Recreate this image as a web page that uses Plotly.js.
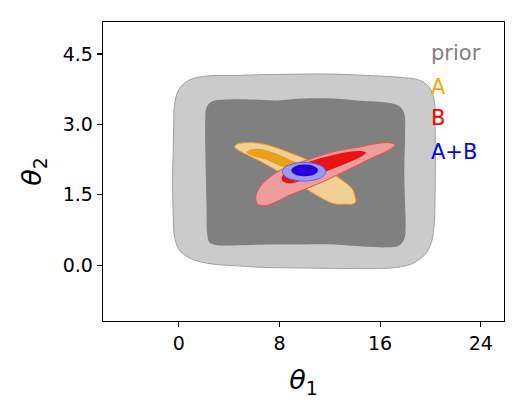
<!DOCTYPE html>
<html>
<head>
<meta charset="utf-8">
<script src="https://cdn.plot.ly/plotly-3.0.1.min.js"></script>
<style>html,body{margin:0;padding:0;background:#fff;}#chart{width:528px;height:417px;}</style>
</head>
<body>
<div id="chart"></div>
<script>
// Contour outlines (theta1, theta2)
const priorOuterX = [-0.45,-0.40,-0.35,0.00,0.80,2.26,4.38,7.04,9.69,12.35,15.00,17.66,19.12,19.91,20.31,20.37,20.39,20.37,20.31,20.10,19.57,18.45,16.86,15.00,12.35,9.69,7.04,4.38,2.26,0.80,0.00,-0.35,-0.45,-0.50,-0.45];
const priorOuterY = [2.38,3.09,3.41,3.74,3.94,4.03,4.04,4.06,4.07,4.07,4.04,4.00,3.94,3.79,3.51,2.95,2.24,1.54,0.90,0.51,0.23,0.02,-0.06,-0.07,-0.07,-0.06,-0.05,-0.01,0.04,0.16,0.34,0.62,1.11,1.82,2.38];

const priorInnerX = [2.10,2.20,2.66,3.85,5.71,7.83,9.69,12.35,14.47,16.60,17.52,17.92,17.98,17.92,17.98,18.03,17.92,17.52,16.60,15.00,12.35,9.69,7.04,4.38,2.92,2.42,2.26,2.20,2.15,2.10,2.10];
const priorInnerY = [3.09,3.36,3.49,3.53,3.53,3.51,3.55,3.55,3.50,3.46,3.39,3.23,2.74,2.03,1.33,0.83,0.55,0.42,0.38,0.39,0.44,0.44,0.44,0.42,0.43,0.49,0.66,1.26,1.89,2.52,3.09];

const aOuterX = [4.43,4.65,5.31,6.24,7.30,8.36,9.43,10.49,11.55,12.48,13.28,13.81,13.99,14.07,13.89,13.14,12.35,11.68,11.02,10.22,9.43,8.63,7.57,6.51,5.44,4.78,4.43];
const aOuterY = [2.52,2.58,2.61,2.60,2.54,2.44,2.33,2.21,2.07,1.90,1.75,1.61,1.47,1.36,1.31,1.30,1.31,1.38,1.48,1.61,1.75,1.89,2.05,2.21,2.35,2.44,2.52];

const aInnerX = [5.39,5.58,6.24,7.04,7.97,8.90,9.96,11.02,11.68,11.87,11.55,10.89,9.96,8.90,7.83,6.77,5.84,5.39];
const aInnerY = [2.40,2.45,2.48,2.44,2.35,2.24,2.12,2.00,1.90,1.83,1.80,1.82,1.90,2.02,2.14,2.26,2.33,2.40];

const bOuterX = [17.18,16.73,15.53,14.47,12.35,10.22,8.63,7.57,6.64,6.19,6.13,6.29,6.90,7.83,8.63,10.22,11.82,13.41,15.00,16.60,17.18];
const bOuterY = [2.56,2.61,2.58,2.52,2.42,2.24,2.10,1.94,1.73,1.54,1.38,1.29,1.27,1.36,1.47,1.64,1.82,2.03,2.24,2.44,2.56];

const bInnerX = [14.87,14.47,13.67,12.61,11.29,9.96,8.90,8.31,8.18,8.42,9.03,9.96,11.29,12.61,13.94,14.68,14.87];
const bInnerY = [2.40,2.43,2.42,2.37,2.28,2.16,2.03,1.93,1.83,1.76,1.75,1.82,1.95,2.09,2.24,2.34,2.40];

const abOuterX = [11.68,11.45,10.82,9.95,9.08,8.45,8.22,8.45,9.08,9.95,10.82,11.45,11.68];
const abOuterY = [1.99,2.09,2.16,2.19,2.16,2.09,1.99,1.89,1.82,1.79,1.82,1.89,1.99];

const abInnerX = [11.06,10.92,10.53,10.00,9.47,9.08,8.94,9.08,9.47,10.00,10.53,10.92,11.06];
const abInnerY = [2.02,2.08,2.13,2.145,2.13,2.08,2.02,1.96,1.91,1.895,1.91,1.96,2.02];

const xTicks = [0, 8, 16, 24];
const yTicks = [0.0, 1.5, 3.0, 4.5];
const yTickText = ["0.0", "1.5", "3.0", "4.5"];
const legendNames = ["prior", "A", "B", "A+B"];
const legendColors = ["#808080", "#ffa500", "#ff0000", "#0000ff"];

function region(x, y, fill, edge, w) {
  return {
    type: 'scatter', mode: 'lines', x: x, y: y, fill: 'toself',
    fillcolor: fill,
    line: {color: edge, width: w, shape: 'spline', smoothing: 1},
    hoverinfo: 'skip', showlegend: false
  };
}

const data = [
  region(priorOuterX, priorOuterY, '#cbcbcb', '#a0a0a0', 1),
  region(priorInnerX, priorInnerY, '#808080', 'rgba(128,128,128,0)', 0),
  region(aOuterX, aOuterY, '#f0d096', '#f0a020', 1),
  region(aInnerX, aInnerY, '#e8a018', 'rgba(0,0,0,0)', 0),
  region(bOuterX, bOuterY, '#ee9c9c', '#ec5050', 1),
  region(bInnerX, bInnerY, '#e81414', 'rgba(0,0,0,0)', 0),
  region(abOuterX, abOuterY, '#9a9af0', '#6060f0', 1),
  region(abInnerX, abInnerY, '#2400d8', 'rgba(0,0,0,0)', 0)
];

const legendY = [0.896, 0.784, 0.678, 0.566];
const annotations = legendNames.map((n, i) => ({
  xref: 'paper', yref: 'paper', x: 0.813, y: legendY[i],
  xanchor: 'left', yanchor: 'middle', showarrow: false,
  text: n, font: {family: 'DejaVu Sans', size: 21, color: legendColors[i]}
}));

const layout = {
  width: 528, height: 417,
  margin: {l: 103, r: 24, t: 22, b: 96},
  paper_bgcolor: '#ffffff', plot_bgcolor: '#ffffff',
  font: {family: 'DejaVu Sans', color: '#000'},
  showlegend: false,
  xaxis: {
    range: [-6.03, 25.85], tickvals: xTicks, ticktext: xTicks.map(String),
    showgrid: false, zeroline: false, showline: true, mirror: true,
    linecolor: '#000', linewidth: 1.3, ticks: 'outside', ticklen: 5, tickwidth: 1.2, tickcolor: '#000',
    tickfont: {size: 19, family: 'DejaVu Sans'},
    title: {text: '<i>θ</i><sub>1</sub>', font: {size: 27, family: 'DejaVu Sans'}, standoff: 17}
  },
  yaxis: {
    range: [-1.19, 5.18], tickvals: yTicks, ticktext: yTickText,
    showgrid: false, zeroline: false, showline: true, mirror: true,
    linecolor: '#000', linewidth: 1.3, ticks: 'outside', ticklen: 5, tickwidth: 1.2, tickcolor: '#000',
    tickfont: {size: 19, family: 'DejaVu Sans'},
    title: {text: '<i>θ</i><sub>2</sub>', font: {size: 27, family: 'DejaVu Sans'}, standoff: 13}
  },
  annotations: annotations
};

Plotly.newPlot('chart', data, layout, {staticPlot: true, displayModeBar: false});
</script>
</body>
</html>
